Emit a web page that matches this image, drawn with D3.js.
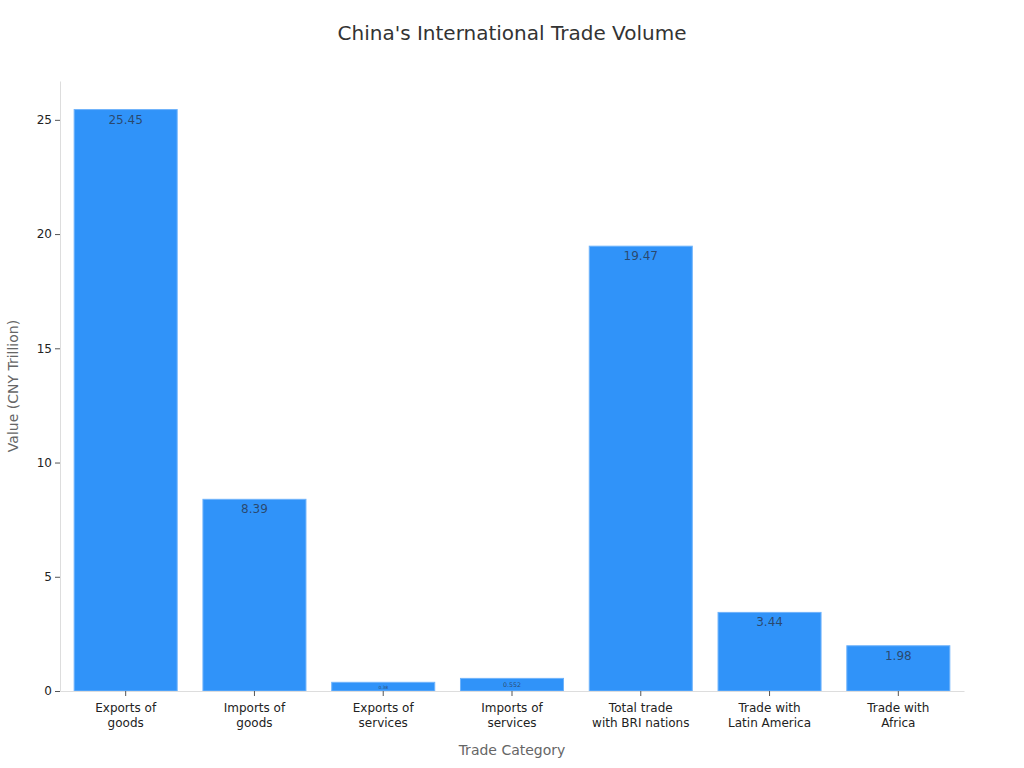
<!DOCTYPE html>
<html>
<head>
<meta charset="utf-8">
<script src="https://cdn.jsdelivr.net/npm/d3@7"></script>
<style>
  body { margin: 0; background: #fff; font-family: "DejaVu Sans", sans-serif; }
</style>
</head>
<body>
<div id="chart"></div>
<script>
// chart data
var categories = [
    ["Exports of", "goods"],
    ["Imports of", "goods"],
    ["Exports of", "services"],
    ["Imports of", "services"],
    ["Total trade", "with BRI nations"],
    ["Trade with", "Latin America"],
    ["Trade with", "Africa"]
];
var values = [25.45, 8.39, 0.38, 0.552, 19.47, 3.44, 1.98];
var valueLabels = ["25.45", "8.39", "0.38", "0.552", "19.47", "3.44", "1.98"];
var yTicks = [0, 5, 10, 15, 20, 25];

var margin = {top: 81, right: 60, bottom: 77, left: 60},
    width = 1024 - margin.left - margin.right,
    height = 768 - margin.top - margin.bottom;

var svg = d3.select("#chart").append("svg")
    .attr("width", 1024)
    .attr("height", 768);

svg.append("text")
    .attr("x", 512).attr("y", 40)
    .attr("text-anchor", "middle")
    .attr("font-size", 20)
    .attr("fill", "#333")
    .text("China's International Trade Volume");

var g = svg.append("g").attr("transform", "translate(" + margin.left + "," + margin.top + ")");

var idx = d3.range(values.length);
var x = d3.scaleBand().domain(idx).range([0, width]).paddingInner(0.2).paddingOuter(0.11);
var y = d3.scaleLinear().domain([0, 26.7]).range([height, 0]);

// bars
g.selectAll("rect.bar").data(idx).enter().append("rect")
    .attr("class", "bar")
    .attr("x", function(i){ return x(i); })
    .attr("y", function(i){ return y(values[i]); })
    .attr("width", x.bandwidth())
    .attr("height", function(i){ return y(0) - y(values[i]); })
    .attr("fill", "#3093f9")
    .attr("stroke", "#6fb3fb")
    .attr("stroke-width", 1);

// value labels inside top of bars
g.selectAll("text.val").data(idx).enter().append("text")
    .attr("class", "val")
    .attr("x", function(i){ return x(i) + x.bandwidth() / 2; })
    .attr("y", function(i){
        var h = y(0) - y(values[i]);
        return h > 20 ? y(values[i]) + 14 : y(values[i]) + h / 2 + 2;
    })
    .attr("text-anchor", "middle")
    .attr("font-size", function(i){
        var h = y(0) - y(values[i]);
        return h > 20 ? 12 : Math.max(4, h * 0.5);
    })
    .attr("fill", "#2a3b55")
    .attr("fill-opacity", 0.85)
    .text(function(i){ return valueLabels[i]; });

// y axis
var yAxis = g.append("g")
    .call(d3.axisLeft(y).tickValues(yTicks).tickSize(5).tickSizeOuter(0));
yAxis.select(".domain").attr("stroke", "#ddd");
yAxis.selectAll(".tick line").attr("stroke", "#555");
yAxis.selectAll(".tick text").attr("font-size", 12).attr("fill", "#222")
    .attr("font-family", "DejaVu Sans");

// x axis
var xAxis = g.append("g")
    .attr("transform", "translate(0," + height + ")")
    .call(d3.axisBottom(x).tickSize(5).tickSizeOuter(0).tickFormat(""));
xAxis.select(".domain").attr("stroke", "#ddd");
xAxis.selectAll(".tick line").attr("stroke", "#555");
xAxis.selectAll(".tick").each(function(i){
    var t = d3.select(this).append("text")
        .attr("text-anchor", "middle")
        .attr("font-size", 12)
        .attr("fill", "#222")
        .attr("font-family", "DejaVu Sans");
    categories[i].forEach(function(line, k){
        t.append("tspan").attr("x", 0).attr("y", 21 + k * 15).text(line);
    });
});

// axis titles
svg.append("text")
    .attr("x", margin.left + width / 2).attr("y", 755)
    .attr("text-anchor", "middle")
    .attr("font-size", 14)
    .attr("fill", "#666")
    .text("Trade Category");

svg.append("text")
    .attr("transform", "translate(18," + (margin.top + height / 2) + ") rotate(-90)")
    .attr("text-anchor", "middle")
    .attr("font-size", 14)
    .attr("fill", "#666")
    .text("Value (CNY Trillion)");
</script>
</body>
</html>
